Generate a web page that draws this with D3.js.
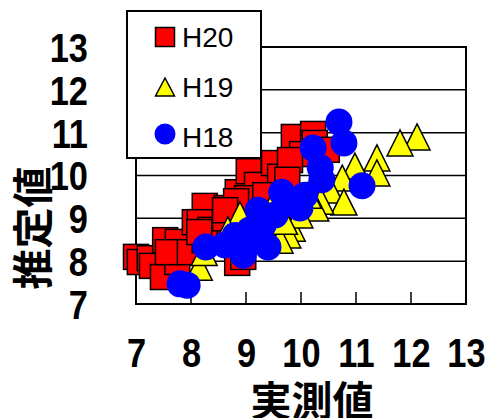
<!DOCTYPE html>
<html><head><meta charset="utf-8">
<script src="https://cdn.jsdelivr.net/npm/d3@7/dist/d3.min.js"></script>
<style>body{margin:0;background:#fff}svg{display:block}</style>
</head><body>
<script>
const xTicks = [7,8,9,10,11,12,13];
const yTicks = [7,8,9,10,11,12,13];
const seriesNames = ["H20","H19","H18"];
const h20X = [7.0,7.07,7.25,7.29,7.49,7.75,7.53,7.76,7.58,8.07,8.25,8.16,7.98,8.35,8.65,8.85,9.05,9.2,9.02,9.51,9.62,9.87,10.22,10.25,10.02,9.8,9.75,8.84,8.25,8.62,9.8,9.62,9.35,10.47,8.95,8.82,8.62,8.15];
const h20Y = [8.1,7.98,8.07,7.89,7.63,7.98,8.49,8.45,8.21,8.91,9.29,8.91,8.21,8.73,9.24,9.61,10.1,9.78,9.47,10.29,9.97,10.9,10.97,10.76,10.5,10.36,9.9,7.96,8.49,9.0,9.08,9.43,9.54,10.6,8.1,9.4,9.19,8.68];
const h19X = [12.11,11.8,11.38,11.38,10.98,10.75,10.53,10.78,10.36,10.27,9.84,9.76,9.62,8.89,8.67,8.15,9.29,9.98,10.13,9.44,8.24,9.7];
const h19Y = [10.9,10.76,10.41,10.06,10.22,9.94,9.66,9.38,9.4,9.24,8.77,8.61,8.49,9.08,8.73,7.86,8.91,9.08,9.54,9.2,8.2,8.93];
const h18X = [10.69,10.78,10.22,11.11,10.35,10.38,10.07,9.84,9.65,9.22,9.31,8.89,8.95,9.4,8.27,7.8,7.93,8.62,9.16,9.98,9.53,9.07,8.8];
const h18Y = [11.25,10.76,10.64,9.76,10.18,9.9,9.54,9.43,9.61,9.19,8.84,8.56,8.14,8.33,8.33,7.47,7.44,8.38,8.49,9.24,9.08,8.73,8.6];

const W = 490, H = 418;
const svg = d3.select("body").append("svg").attr("width", W).attr("height", H);
const x = d3.scaleLinear().domain([7,13]).range([136,466]);
const y = d3.scaleLinear().domain([7,13]).range([304,47]);

// gridlines
svg.append("g").selectAll("line").data(yTicks.slice(1,-1)).join("line")
  .attr("x1", x(7)).attr("x2", x(13)).attr("y1", d=>y(d)).attr("y2", d=>y(d))
  .attr("stroke","#000").attr("stroke-width",1.5);
// x inner ticks
svg.append("g").selectAll("line").data(xTicks.slice(1,-1)).join("line")
  .attr("x1", d=>x(d)).attr("x2", d=>x(d)).attr("y1", y(7)).attr("y2", y(7)-12)
  .attr("stroke","#000").attr("stroke-width",1.5);
svg.append("rect").attr("x",x(7)).attr("y",y(13)).attr("width",x(13)-x(7)).attr("height",y(7)-y(13))
  .attr("fill","none").attr("stroke","#000").attr("stroke-width",2);

const font = "'Liberation Sans', Arial, sans-serif";
const sx = 0.86;
const xAxis = svg.append("g").attr("transform",`translate(0,${y(7)})`)
  .call(d3.axisBottom(x).tickValues(xTicks).tickSize(0).tickPadding(35).tickFormat(d3.format("d")));
const yAxis = svg.append("g").attr("transform",`translate(${x(7)},0)`)
  .call(d3.axisLeft(y).tickValues(yTicks).tickSize(0).tickPadding(46).tickFormat(d3.format("d")));
[xAxis,yAxis].forEach(a=>{
  a.select(".domain").remove();
  a.selectAll("text").attr("font-family",font).attr("font-weight","bold")
   .attr("font-size",40).attr("fill","#000").attr("transform",`scale(${sx},1)`);
});
yAxis.selectAll("text").attr("dy","0.36em").attr("x",-48/sx);

// markers
const sq = 25, tri = 26, rad = 13.5;
const triPath = (w,h)=>`M0,${-h/2}L${w/2},${h/2}L${-w/2},${h/2}Z`;
svg.append("g").selectAll("rect").data(d3.zip(h20X,h20Y)).join("rect")
  .attr("x",d=>x(d[0])-sq/2).attr("y",d=>y(d[1])-sq/2).attr("width",sq).attr("height",sq)
  .attr("fill","#ff0000").attr("stroke","#000").attr("stroke-width",1.5);
svg.append("g").selectAll("path").data(d3.zip(h19X,h19Y)).join("path")
  .attr("d",triPath(tri,tri)).attr("transform",d=>`translate(${x(d[0])},${y(d[1])})`)
  .attr("fill","#ffff00").attr("stroke","#000").attr("stroke-width",1.5).attr("stroke-linejoin","miter");
svg.append("g").selectAll("circle").data(d3.zip(h18X,h18Y)).join("circle")
  .attr("cx",d=>x(d[0])).attr("cy",d=>y(d[1])).attr("r",rad).attr("fill","#0000ff");

// legend
const lg = svg.append("g");
lg.append("rect").attr("x",127).attr("y",11).attr("width",134).attr("height",147)
  .attr("fill","#fff").attr("stroke","#000").attr("stroke-width",2);
const ly = [37,87,136];
lg.append("rect").attr("x",165-9.5).attr("y",ly[0]-9.5).attr("width",19).attr("height",19)
  .attr("fill","#ff0000").attr("stroke","#000").attr("stroke-width",1.5);
lg.append("path").attr("d",triPath(19,18)).attr("transform",`translate(165,${ly[1]})`)
  .attr("fill","#ffff00").attr("stroke","#000").attr("stroke-width",1.5);
lg.append("circle").attr("cx",165).attr("cy",ly[2]-2).attr("r",10.5).attr("fill","#0000ff");
lg.selectAll("text").data(seriesNames).join("text")
  .attr("x",182).attr("y",(d,i)=>[47,97,147][i]).text(d=>d)
  .attr("font-family",font).attr("font-size",28).attr("fill","#000");

// axis titles
const cjk = "'Noto Sans CJK JP', sans-serif";
svg.append("text").attr("x",312).attr("y",398).attr("text-anchor","middle").attr("dominant-baseline","central")
  .attr("font-family",cjk).attr("font-weight","bold").attr("font-size",41).text("実測値");
svg.append("text").attr("transform","translate(30,228) rotate(-90)").attr("text-anchor","middle")
  .attr("dominant-baseline","central")
  .attr("font-family",cjk).attr("font-weight","bold").attr("font-size",41).text("推定値");
</script>
</body></html>
